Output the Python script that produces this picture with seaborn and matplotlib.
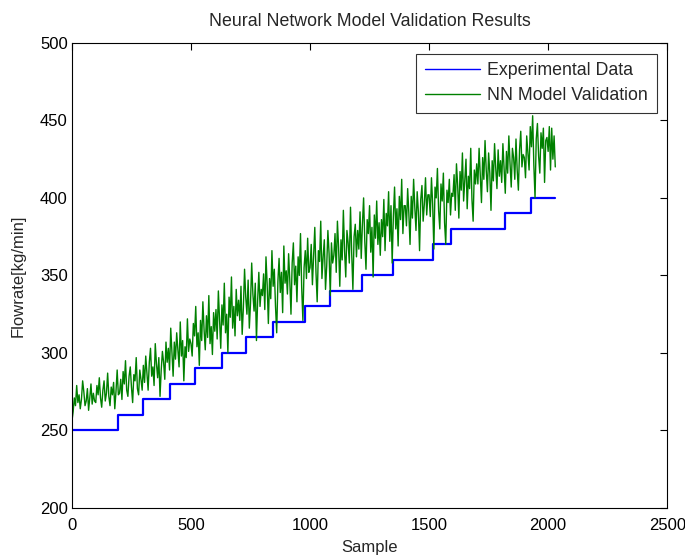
import numpy as np
import pandas as pd
import matplotlib
matplotlib.use("Agg")
import matplotlib.pyplot as plt
import seaborn as sns

# ---- data ----
step_edges = [0, 195, 300, 410, 518, 632, 731, 845, 977, 1082, 1219, 1350, 1515, 1591, 1818, 1930, 2030]
step_levels = [250, 260, 270, 280, 290, 300, 310, 320, 330, 340, 350, 360, 370, 380, 390, 400]

nn_step = 5
nn_values = [
    256, 262, 271, 266, 279, 268, 273, 264, 270, 282, 275, 266, 269, 277, 263, 271, 280, 267, 274, 269,
    268, 279, 273, 284, 271, 265, 276, 282, 269, 274, 287, 272, 266, 278, 273, 281, 264, 275, 289, 273,
    274, 283, 270, 288, 280, 295, 276, 272, 285, 291, 278, 268, 286, 282, 297, 277, 273, 289, 283, 276,
    292, 281, 298, 287, 276, 294, 303, 285, 291, 279, 306, 293, 284, 297, 272, 289, 301, 294, 283, 307,
    294, 303, 289, 316, 300, 285, 307, 296, 313, 302, 291, 320, 298, 308, 282, 304, 297, 322, 301, 309,
    306, 298, 319, 311, 330, 304, 313, 292, 321, 308, 333, 315, 302, 324, 310, 337, 306, 317, 299, 326,
    314, 328, 309, 340, 321, 303, 331, 318, 345, 313, 325, 300, 336, 323, 349, 316, 330, 311, 341, 324,
    334, 321, 343, 312, 329, 354, 336, 325, 347, 316, 332, 358, 338, 327, 345, 308, 334, 352, 330, 341,
    337, 351, 328, 362, 344, 319, 348, 335, 366, 343, 354, 330, 313, 346, 361, 339, 352, 326, 369, 345,
    353, 338, 364, 347, 325, 358, 371, 344, 356, 333, 362, 350, 377, 342, 321, 355, 366, 348, 374, 352,
    355, 370, 344, 363, 381, 352, 333, 366, 359, 385, 348, 362, 373, 341, 356, 379, 364, 337, 371, 358,
    363, 377, 352, 385, 368, 343, 373, 360, 392, 366, 349, 379, 371, 358, 394, 364, 341, 375, 383, 362,
    379, 367, 391, 361, 383, 400, 372, 354, 386, 377, 395, 365, 381, 349, 389, 374, 398, 370, 384, 363,
    386, 375, 399, 366, 390, 382, 404, 372, 395, 358, 388, 407, 380, 393, 369, 401, 386, 412, 377, 395,
    395, 382, 406, 390, 370, 401, 387, 412, 394, 379, 404, 391, 366, 399, 408, 385, 396, 413, 389, 402,
    402, 388, 413, 396, 367, 407, 400, 419, 392, 380, 409, 398, 416, 384, 370, 405, 397, 412, 389, 403,
    401, 415, 392, 422, 408, 387, 417, 405, 429, 398, 411, 425, 393, 414, 406, 432, 399, 385, 418, 409,
    422, 409, 432, 415, 397, 426, 412, 437, 418, 404, 429, 416, 392, 424, 411, 435, 419, 406, 431, 414,
    424, 410, 435, 419, 403, 430, 416, 440, 422, 407, 432, 426, 412, 438, 418, 405, 431, 443, 420, 428,
    426, 413, 440, 429, 418, 446, 433, 453, 421, 400, 438, 448, 427, 416, 442, 432, 445, 410, 437, 439,
    430, 446, 418, 445, 425, 440, 420,
]

title = "Neural Network Model Validation Results"
xlabel = "Sample"
ylabel = "Flowrate[kg/min]"
labels = ["Experimental Data", "NN Model Validation"]
xticks = [0, 500, 1000, 1500, 2000, 2500]
yticks = [200, 250, 300, 350, 400, 450, 500]

# ---- build frames ----
exp_df = pd.DataFrame({"Sample": step_edges,
                       "Flowrate": step_levels + [step_levels[-1]]})
nn_df = pd.DataFrame({"Sample": np.arange(len(nn_values)) * nn_step,
                      "Flowrate": nn_values})

sns.set_style("white")
plt.rcParams["font.family"] = ["Liberation Sans", "DejaVu Sans"]

fig = plt.figure(figsize=(6.85, 5.57), dpi=100)
ax = fig.add_axes([0.105, 0.088, 0.869, 0.835])

sns.lineplot(data=exp_df, x="Sample", y="Flowrate", ax=ax, color=(0, 0, 1),
             linewidth=1.6, drawstyle="steps-post", label=labels[0])
sns.lineplot(data=nn_df, x="Sample", y="Flowrate", ax=ax, color=(0, 0.5, 0),
             linewidth=1.0, label=labels[1])

ax.set_xlim(0, 2500)
ax.set_ylim(200, 500)
ax.set_xticks(xticks)
ax.set_yticks(yticks)
ax.tick_params(direction="in", length=5, width=0.8, top=True, right=True,
               labelsize=12, colors="black")
ax.tick_params(axis="x", pad=7)
ax.tick_params(axis="y", pad=3)
for s in ax.spines.values():
    s.set_visible(True)
    s.set_color("black")
    s.set_linewidth(0.8)

ax.set_title(title, fontsize=12.8, pad=12)
ax.set_xlabel(xlabel, fontsize=12, labelpad=5)
ax.set_ylabel(ylabel, fontsize=12, labelpad=10)

leg = ax.legend(loc="upper right", fontsize=12.8, frameon=True, fancybox=False,
                edgecolor="black", borderpad=0.5, handlelength=3.1,
                labelspacing=0.45, borderaxespad=0.6, handletextpad=0.4)
leg.get_frame().set_linewidth(0.8)
for ln in leg.get_lines():
    ln.set_linewidth(1.0)

fig.savefig("out.png", dpi=100)
